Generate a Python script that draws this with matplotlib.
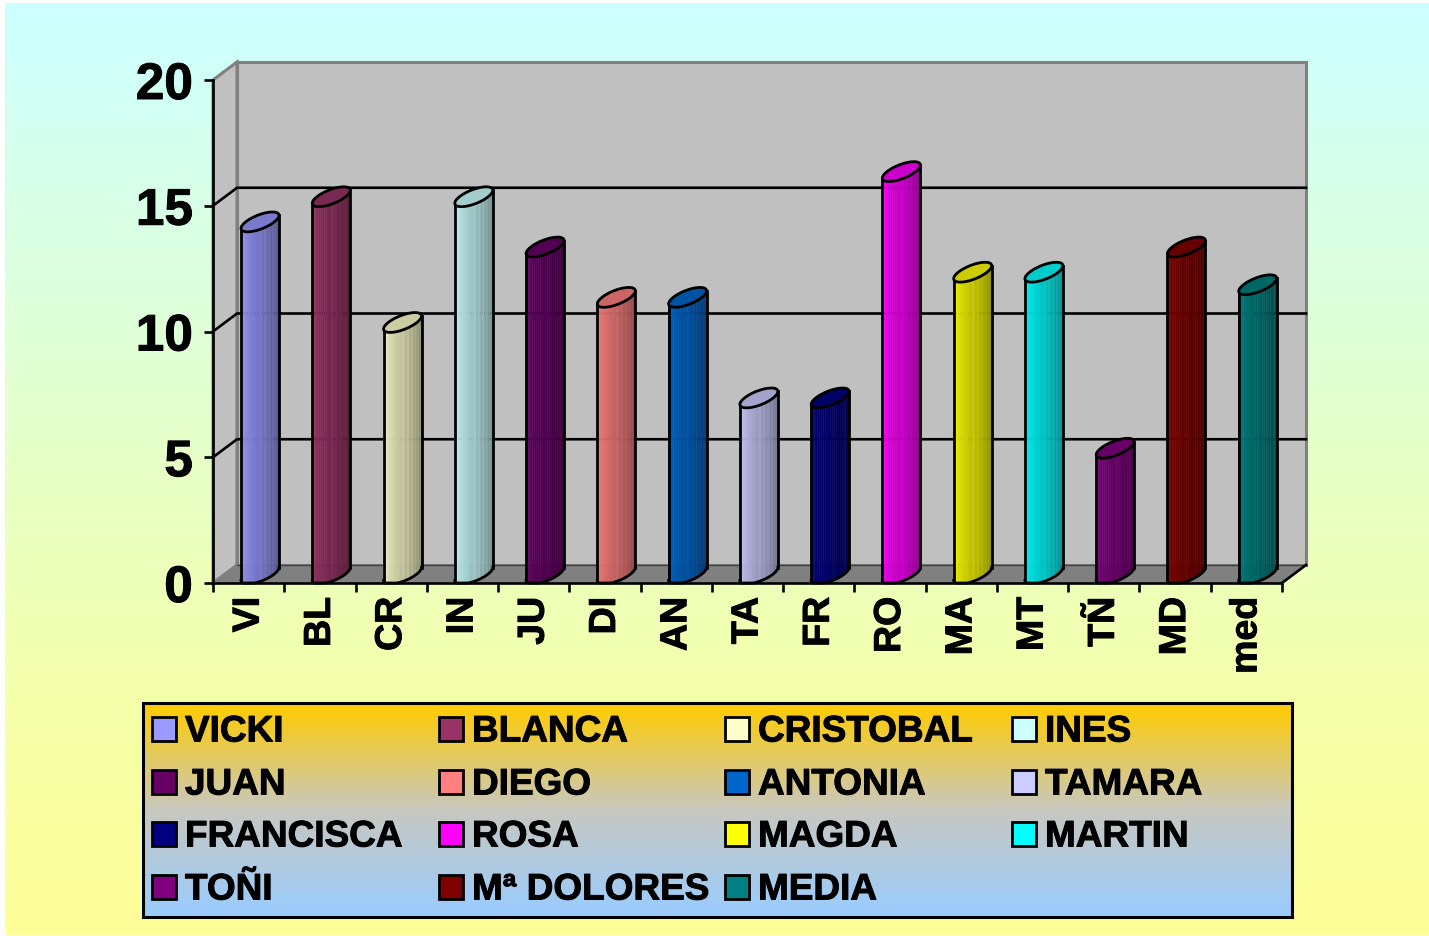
import numpy as np
import matplotlib
matplotlib.use('Agg')
import matplotlib.pyplot as plt
import matplotlib.patheffects as pe
from matplotlib.colors import LinearSegmentedColormap, to_rgb
from matplotlib.patches import Rectangle

plt.rcParams['font.family'] = ['Liberation Sans', 'DejaVu Sans']
plt.rcParams['font.weight'] = 'bold'

short_names = ['VI', 'BL', 'CR', 'IN', 'JU', 'DI', 'AN', 'TA', 'FR', 'RO', 'MA', 'MT', 'TÑ', 'MD', 'med']
full_names = ['VICKI', 'BLANCA', 'CRISTOBAL', 'INES', 'JUAN', 'DIEGO', 'ANTONIA', 'TAMARA',
              'FRANCISCA', 'ROSA', 'MAGDA', 'MARTIN', 'TOÑI', 'Mª DOLORES', 'MEDIA']
values = [14, 15, 10, 15, 13, 11, 11, 7, 7, 16, 12, 12, 5, 13, 11.5]
colors = ['#9999FF', '#993366', '#FFFFCC', '#CCFFFF', '#660066', '#FF8080', '#0066CC', '#CCCCFF',
          '#000080', '#FF00FF', '#FFFF00', '#00FFFF', '#800080', '#800000', '#008080']
y_ticks = [0, 5, 10, 15, 20]

W, H = 1429, 936
fig = plt.figure(figsize=(W / 100, H / 100), dpi=100, facecolor='white')
heavy = [pe.withStroke(linewidth=0.7, foreground='black')]

# overlay in pixels for the backgrounds and the legend
bg = fig.add_axes([0, 0, 1, 1], zorder=0)
bg.set_xlim(0, W)
bg.set_ylim(H, 0)
bg.axis('off')
page = LinearSegmentedColormap.from_list('page', [(0, '#CCFFFF'), (0.75, '#F5FFAA'), (1, '#FFFF99')])
bg.imshow(np.linspace(0, 1, 256).reshape(-1, 1), cmap=page, aspect='auto', extent=[5, W, 935, 3])
leg = LinearSegmentedColormap.from_list('leg', ['#FFCC00', '#C8C8C0', '#99CCFF'])
bg.imshow(np.linspace(0, 1, 256).reshape(-1, 1), cmap=leg, aspect='auto', extent=[143, 1292, 917, 703])
bg.add_patch(Rectangle((143, 703), 1149, 214, fill=False, ec='black', lw=2.2))
bg.set_xlim(0, W)
bg.set_ylim(H, 0)

col_x = [152, 439, 725, 1012]
row_y = [729, 782, 834, 887]
for i, (name, c) in enumerate(zip(full_names, colors)):
    x = col_x[i % 4]
    y = row_y[i // 4]
    bg.add_patch(Rectangle((x, y - 12), 24, 24, fc=c, ec='black', lw=2))
    bg.text(x + 33, y + 3, name, fontsize=26.6, va='center', ha='left', color='black', path_effects=heavy)

# chart axes: front plane of the 3D box
ax = fig.add_axes([213 / W, 1 - 583 / H, 1069 / W, 503 / H], zorder=1)
ax.set_xlim(0, 15)
ax.set_ylim(0, 20)
ax.patch.set_alpha(0)
px = 1069 / 15
py = 503 / 20
dx = 24 / px
dy = 18 / py

# walls and floor
ax.fill([dx, 15 + dx, 15 + dx, dx], [dy, dy, 20 + dy, 20 + dy], fc='#C0C0C0', ec='#808080', lw=2.2, clip_on=False, zorder=1)
ax.fill([0, dx, dx, 0], [0, dy, 20 + dy, 20], fc='#C0C0C0', ec='#808080', lw=2.2, clip_on=False, zorder=1)
ax.fill([0, dx, 15 + dx, 15], [0, dy, dy, 0], fc='#808080', ec='none', clip_on=False, zorder=2)
ax.plot([dx, 15 + dx], [dy, dy], color='#404040', lw=1, clip_on=False, zorder=2)
ax.plot([15, 15 + dx], [0, dy], color='black', lw=1.9, clip_on=False, zorder=2)

for v in y_ticks[1:-1]:
    ax.plot([0, dx, 15 + dx], [v, v + dy, v + dy], color='black', lw=1.9, clip_on=False, zorder=2)

# cylinders
a = 0.5 * 38 / px
lift = 9 / py
b = 6.5 / py
c2 = 7.5 / py
t = np.linspace(np.pi, 2 * np.pi, 27)
for i, (v, c) in enumerate(zip(values, colors)):
    base = np.array(to_rgb(c))
    cx = i + 28 / px + a
    xs = cx + a * np.cos(t)
    low = np.maximum(lift + b * np.cos(t) + c2 * np.sin(t), 0)
    high = v + lift + b * np.cos(t) + c2 * np.sin(t)
    for k in range(len(t) - 1):
        shade = 1.0 - 0.5 * k / (len(t) - 2)
        if k > 12 and k % 2:
            shade += 0.05
        ax.fill([xs[k], xs[k + 1], xs[k + 1], xs[k]], [low[k], low[k + 1], high[k + 1], high[k]],
                fc=base * min(shade, 1), ec=base * min(shade, 1), lw=0.3, clip_on=False, zorder=3)
    tt = np.linspace(0, 2 * np.pi, 80)
    ax.fill(cx + a * np.cos(tt), v + lift + b * np.cos(tt) + c2 * np.sin(tt), fc=base * 0.8, ec='black', lw=2,
            clip_on=False, zorder=5)
    ax.plot(xs, low, color='black', lw=2, clip_on=False, zorder=4)
    ax.plot([xs[0], xs[0]], [low[0], high[0]], color='black', lw=2, clip_on=False, zorder=4)
    ax.plot([xs[-1], xs[-1]], [low[-1], high[-1]], color='black', lw=2, clip_on=False, zorder=4)

for s in ['top', 'right']:
    ax.spines[s].set_visible(False)
for s in ['left', 'bottom']:
    ax.spines[s].set_linewidth(1.9)
    ax.spines[s].set_zorder(6)

ax.set_yticks(y_ticks)
ax.set_yticklabels([str(v) for v in y_ticks], fontsize=37, fontweight='bold', path_effects=heavy)
ax.tick_params(axis='y', length=6.5, width=1.9, pad=8)
ax.set_xticks(range(16))
ax.set_xticklabels([])
ax.tick_params(axis='x', which='major', length=6.5, width=1.9)
ax.set_xticks(np.arange(15) + 0.5, minor=True)
ax.set_xticklabels(short_names, minor=True, rotation=90, fontsize=27, fontweight='bold', va='top', ha='center',
                   path_effects=heavy)
ax.tick_params(axis='x', which='minor', length=0, pad=10)

fig.savefig('out.png', dpi=100)
